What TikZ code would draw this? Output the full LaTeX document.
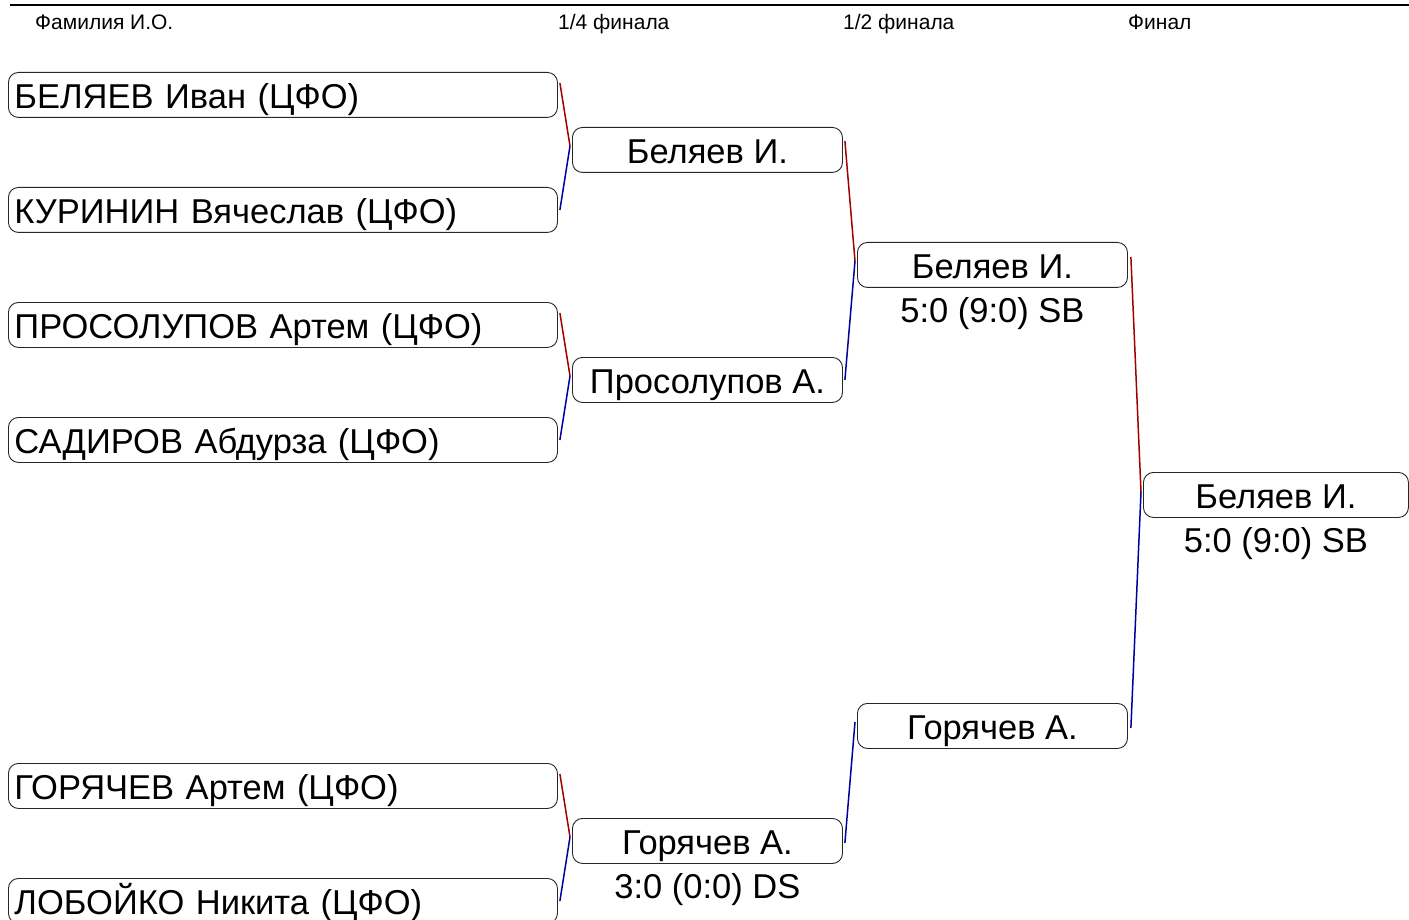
\documentclass[tikz,border=0pt]{standalone}
\usepackage{fontspec}
\setmainfont{Liberation Sans}
\usetikzlibrary{calc}
\definecolor{winred}{RGB}{160,0,0}
\definecolor{loseblue}{RGB}{0,0,160}
\begin{document}
\begin{tikzpicture}[x=1pt,y=-1pt,
 box/.style={draw=black!85, line width=0.9pt, rounded corners=10pt, minimum height=45pt, inner sep=0pt, text height=27pt, text depth=0pt, anchor=north west, font=\fontsize{34.5}{34.5}\selectfont},
 namebox/.style={box, minimum width=549pt, text width=537pt, align=left},
 winbox/.style={box, minimum width=270pt, align=center},
 score/.style={anchor=north, inner sep=0pt, font=\fontsize{34.5}{34.5}\selectfont},
 hdr/.style={anchor=base west, inner sep=0pt, font=\fontsize{21}{21}\selectfont},
 redline/.style={draw=winred, line width=1.5pt},
 blueline/.style={draw=loseblue, line width=1.5pt}
]
\useasboundingbox (0,0) rectangle (1409,920);
\draw[line width=2pt] (10,5) coordinate (tl) -- (1409,5) coordinate (tr);
\node[hdr] (h1) at (35,30) {Фамилия И.О.};
\node[hdr] (h2) at (558,30) {1/4 финала};
\node[hdr] (h3) at (843,30) {1/2 финала};
\node[hdr] (h4) at (1128,30) {Финал};
% round 1
\node[namebox] (a1) at (8,72) {БЕЛЯЕВ Иван (ЦФО)};
\node[namebox] (a2) at (8,187) {КУРИНИН Вячеслав (ЦФО)};
\node[namebox] (a3) at (8,302) {ПРОСОЛУПОВ Артем (ЦФО)};
\node[namebox] (a4) at (8,417) {САДИРОВ Абдурза (ЦФО)};
\node[namebox] (a5) at (8,763) {ГОРЯЧЕВ Артем (ЦФО)};
\node[namebox] (a6) at (8,878) {ЛОБОЙКО Никита (ЦФО)};
% quarterfinals
\node[winbox] (q1) at (572,127) {Беляев И.};
\node[winbox] (q2) at (572,357) {Просолупов А.};
\node[winbox] (q4) at (572,818) {Горячев А.};
\node[score] (q4s) at ($(q4.south)+(0,9)$) {3:0 (0:0) DS};
% semifinals
\node[winbox] (s1) at (857,242) {Беляев И.};
\node[score] (s1s) at ($(s1.south)+(0,9)$) {5:0 (9:0) SB};
\node[winbox] (s2) at (857,703) {Горячев А.};
% final
\node[box, minimum width=265pt, align=center] (f) at (1143,472) {Беляев И.};
\node[score] (fs) at ($(f.south)+(0,9)$) {5:0 (9:0) SB};
% junctions
\coordinate (jq1) at ($(q1.north west)+(-2,19)$);
\coordinate (jq2) at ($(q2.north west)+(-2,19)$);
\coordinate (jq4) at ($(q4.north west)+(-2,19)$);
\coordinate (js1) at ($(s1.north west)+(-2,19)$);
\coordinate (js2) at ($(s2.north west)+(-2,19)$);
\coordinate (jf) at ($(f.north west)+(-2,20)$);
% connectors
\draw[redline] ($(a1.north east)+(2,11)$) -- (jq1);
\draw[blueline] (jq1) -- ($(a2.east)+(2,0)$);
\draw[redline] ($(a3.north east)+(2,11)$) -- (jq2);
\draw[blueline] (jq2) -- ($(a4.east)+(2,0)$);
\draw[redline] ($(a5.north east)+(2,11)$) -- (jq4);
\draw[blueline] (jq4) -- ($(a6.east)+(2,0)$);
\draw[redline] ($(q1.north east)+(2,14)$) -- (js1);
\draw[blueline] (js1) -- ($(q2.east)+(2,0)$);
\draw[blueline] (js2) -- ($(q4.east)+(2,2)$);
\draw[redline] ($(s1.north east)+(3,15)$) -- (jf);
\draw[blueline] (jf) -- ($(s2.east)+(3,2)$);
\end{tikzpicture}
\end{document}
